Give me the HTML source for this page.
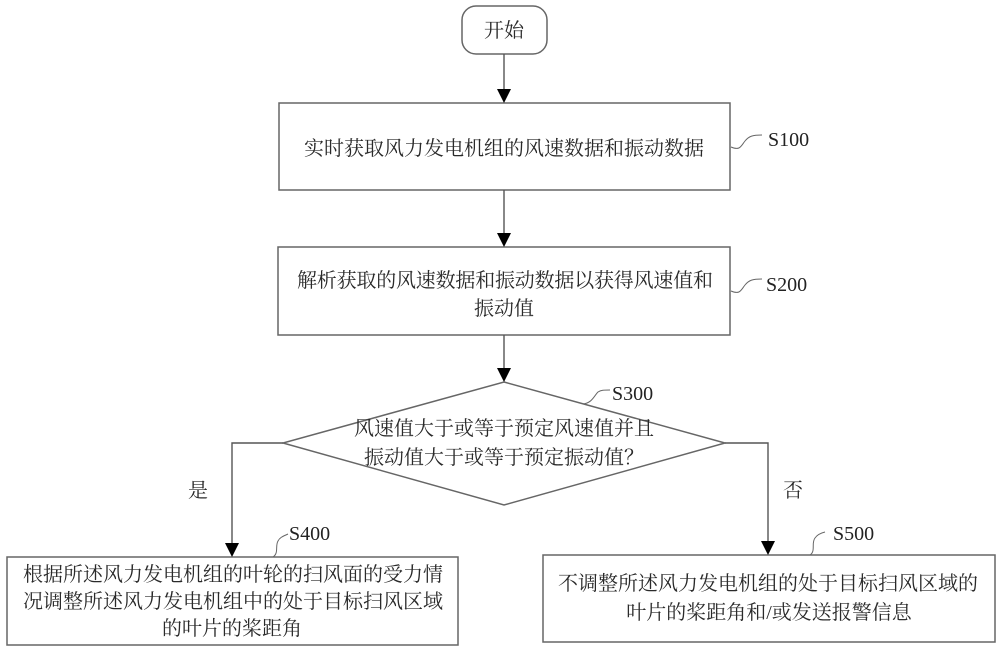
<!DOCTYPE html>
<html><head><meta charset="utf-8"><style>
html,body{margin:0;padding:0;background:#fff}
svg{display:block}
.c{font-family:"Liberation Serif","Noto Serif CJK SC",serif;font-size:20px;fill:#2a2a2a;text-anchor:middle}
.s{font-family:"Liberation Serif",serif;font-size:20px;fill:#222}
.b{fill:#fff;stroke:#666;stroke-width:1.5}
.l{fill:none;stroke:#555;stroke-width:1.4}
.q{fill:none;stroke:#666;stroke-width:1}
.a{fill:#000;stroke:none}
</style></head><body>
<svg width="1000" height="651" viewBox="0 0 1000 651" xmlns="http://www.w3.org/2000/svg">
<rect width="1000" height="651" fill="#fff"/>
<rect class="b" x="462" y="6" width="85" height="48" rx="14"/>
<rect class="b" x="279" y="103" width="451" height="87"/>
<rect class="b" x="278" y="247" width="452" height="88"/>
<polygon class="b" points="504,382 725,443 504,505 283,443"/>
<rect class="b" x="7" y="557" width="451" height="88"/>
<rect class="b" x="543" y="555" width="452" height="87"/>

<path class="l" d="M504 54V90M504 190V234M504 335V369M283 443H232V544M725 443H768V542"/>
<polygon class="a" points="497,89 511,89 504,103"/>
<polygon class="a" points="497,233 511,233 504,247"/>
<polygon class="a" points="497,368 511,368 504,382"/>
<polygon class="a" points="225,543 239,543 232,557"/>
<polygon class="a" points="761,541 775,541 768,555"/>

<path class="q" d="M731 147C740 151 741 146 745 141C749 136 753 135 762 135"/>
<path class="q" d="M731 291C740 295 741 290 745 285C749 280 753 279 762 279"/>
<path class="q" d="M583 404C592 403 594 396 598 392C601 390 604 390 610 390"/>
<path class="q" d="M273 557C279 553 275 546 278 541C280 537 284 536 288 534"/>
<path class="q" d="M810 555C816 551 811 543 815 538C817 535 821 533 825 532"/>

<text class="c" x="504" y="37">开始</text>
<text class="c" x="504" y="155">实时获取风力发电机组的风速数据和振动数据</text>
<text class="c" x="505" y="287" textLength="416" lengthAdjust="spacing">解析获取的风速数据和振动数据以获得风速值和</text>
<text class="c" x="504" y="315">振动值</text>
<text class="c" x="504" y="435">风速值大于或等于预定风速值并且</text>
<text class="c" x="504" y="464">振动值大于或等于预定振动值？</text>
<text class="c" x="233" y="581">根据所述风力发电机组的叶轮的扫风面的受力情</text>
<text class="c" x="233" y="608">况调整所述风力发电机组中的处于目标扫风区域</text>
<text class="c" x="232" y="635">的叶片的桨距角</text>
<text class="c" x="768" y="590">不调整所述风力发电机组的处于目标扫风区域的</text>
<text class="c" x="769" y="619">叶片的桨距角和/或发送报警信息</text>
<text class="c" x="198" y="497">是</text>
<text class="c" x="793" y="497">否</text>
<text class="s" x="768" y="146">S100</text>
<text class="s" x="766" y="291">S200</text>
<text class="s" x="612" y="400">S300</text>
<text class="s" x="289" y="540">S400</text>
<text class="s" x="833" y="540">S500</text>
</svg>
</body></html>
